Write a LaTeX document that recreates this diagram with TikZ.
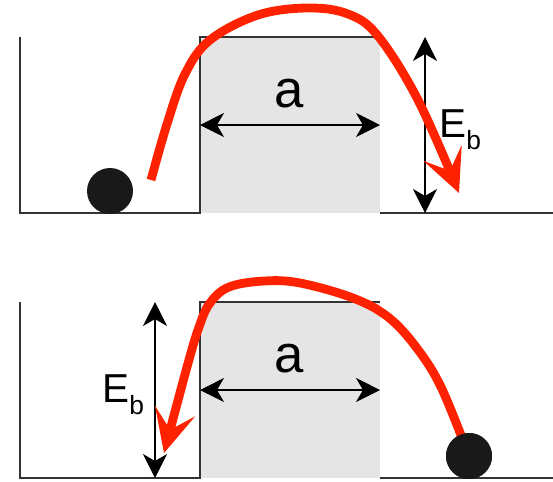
\documentclass[tikz,border=0pt]{standalone}
\usepackage{fontspec}
\setmainfont{Liberation Sans}
\usetikzlibrary{arrows.meta}

\definecolor{barriergray}{HTML}{E5E5E5}
\definecolor{hopred}{HTML}{FF2200}

\tikzset{
  wall/.style={line width=0.6pt, black!80},
  dim/.style={line width=0.6pt,
    {Stealth[length=4.8mm,width=4.8mm,inset=1.4mm]}-{Stealth[length=4.8mm,width=4.8mm,inset=1.4mm]}},
  hop/.style={line width=5pt, hopred,
    -{Stealth[length=8.6mm,width=8.2mm,inset=3.8mm]}},
  ball/.style={circle, fill=black!90, minimum size=0.92cm, inner sep=0pt},
  alabel/.style={font=\fontsize{30}{34}\selectfont, anchor=base},
  elabel/.style={font=\fontsize{23}{26}\selectfont, anchor=base west, inner sep=0pt},
}
\newcommand{\Eb}{E\raisebox{-0.32em}{\fontsize{15}{16}\selectfont b}}

\begin{document}
\begin{tikzpicture}[x=0.02cm, y=-0.02cm]
    \useasboundingbox (0,0) rectangle (553,481);

    % First well: the ball hops to the right
    \coordinate (WL) at (20,37);
    \coordinate (BL) at (200,37);
    \coordinate (BR) at (380,37);
    \fill[barriergray] (BL) rectangle (380,213);
    \draw[wall] (WL) -- (20,213) -- (200,213) -- (BL) -- (BR);
    \draw[wall] (380,213) -- (553,213);
    \coordinate (A1) at (200,125);
    \coordinate (A2) at (380,125);
    \draw[dim] (A1) -- (A2);
    \node[alabel] (a) at (289,107) {a};
    \coordinate (E1) at (425,37);
    \coordinate (E2) at (425,213);
    \draw[dim] (E1) -- (E2);
    \node[elabel] (eb) at (439,137) {\Eb};
    \node[ball] (ball) at (110,191) {};
    \coordinate (start) at (151,180);
    \coordinate (land) at (459,193);
    \draw[hop] plot[smooth, tension=0.6] coordinates
      {(start) (167,124) (185,74) (210,40) (258,15) (308,8) (348,14) (378,36) (418,100) (land)};

    % Second well, shifted down: the ball hops back to the left
    \begin{scope}[shift={(0,265)}]
        \coordinate (WL) at (20,37);
        \coordinate (BL) at (200,37);
        \coordinate (BR) at (380,37);
        \fill[barriergray] (BL) rectangle (380,213);
        \draw[wall] (WL) -- (20,213) -- (200,213) -- (BL) -- (BR);
        \draw[wall] (380,213) -- (553,213);
        \coordinate (A1) at (200,125);
        \coordinate (A2) at (380,125);
        \draw[dim] (A1) -- (A2);
        \node[alabel] (a) at (289,107) {a};
        \coordinate (E1) at (155,37);
        \coordinate (E2) at (155,213);
        \draw[dim] (E1) -- (E2);
        \node[elabel] (eb) at (102,137) {\Eb};
        \node[ball] (ball) at (469,191) {};
        \coordinate (land) at (164,188);
        \draw[hop] plot[smooth, tension=0.6] coordinates
          {(ball.center) (441,122) (416,82) (388,52) (353,33) (300,18) (264,16) (229,22) (210,38) (199,62) (187,102) (land)};
        \node[ball] at (ball) {};
    \end{scope}
\end{tikzpicture}
\end{document}
